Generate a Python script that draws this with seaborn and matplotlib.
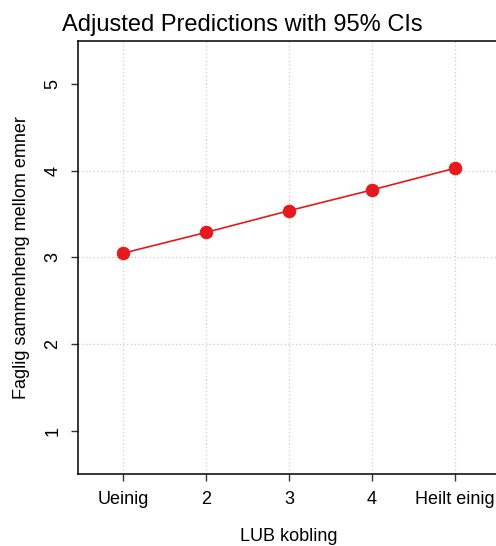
import numpy as np
import pandas as pd
import matplotlib
matplotlib.use("Agg")
import matplotlib.pyplot as plt
import seaborn as sns

levels = [1, 2, 3, 4, 5]
level_labels = ["Ueinig", "2", "3", "4", "Heilt einig"]
margins = [3.05, 3.29, 3.54, 3.78, 4.03]
ci_low = [3.00, 3.27, 3.52, 3.76, 4.00]
ci_high = [3.10, 3.31, 3.56, 3.80, 4.06]

df = pd.DataFrame({"lub": levels, "pred": margins})

sns.set_style("white")
plt.rcParams["font.family"] = ["Liberation Sans", "DejaVu Sans"]
plt.rcParams["text.color"] = "black"
plt.rcParams["axes.labelcolor"] = "black"
plt.rcParams["xtick.color"] = "black"
plt.rcParams["ytick.color"] = "black"

fig = plt.figure(figsize=(4.96, 5.46), dpi=100)
ax = fig.add_axes([0.157, 0.132, 0.852, 0.793])

red = "#e41a1c"

# grid like Stata (no lines at the outer y ticks)
for x in levels:
    ax.axvline(x, color="#cccccc", linestyle=(0, (1, 2)), linewidth=0.9, zorder=0)
for y in [2, 3, 4]:
    ax.axhline(y, color="#cccccc", linestyle=(0, (1, 2)), linewidth=0.9, zorder=0)

ax.vlines(levels, ci_low, ci_high, color=red, linewidth=2.5, zorder=2)
sns.lineplot(data=df, x="lub", y="pred", color=red, marker="o", markersize=9,
             markeredgecolor=red, linewidth=1.2, ax=ax, zorder=3)

ax.set_xlim(0.45, 5.55)
ax.set_ylim(0.5, 5.5)
ax.set_xticks(levels)
ax.set_xticklabels(level_labels)
ax.set_yticks([1, 2, 3, 4, 5])
ax.set_yticklabels(["1", "2", "3", "4", "5"], rotation=90, va="center")

ax.tick_params(axis="both", which="both", length=5, width=1, color="#333333",
               labelsize=13, pad=7, direction="out", bottom=True, left=True)

for side in ["left", "bottom", "top"]:
    ax.spines[side].set_color("black")
    ax.spines[side].set_linewidth(1.1)
ax.spines["right"].set_visible(False)

ax.set_xlabel("LUB kobling", fontsize=13, labelpad=15)
ax.set_ylabel("Faglig sammenheng mellom emner", fontsize=13, labelpad=10)

fig.text(0.488, 0.955, "Adjusted Predictions with 95% CIs", fontsize=17,
         ha="center", va="center")

fig.savefig("out.png", dpi=100)
